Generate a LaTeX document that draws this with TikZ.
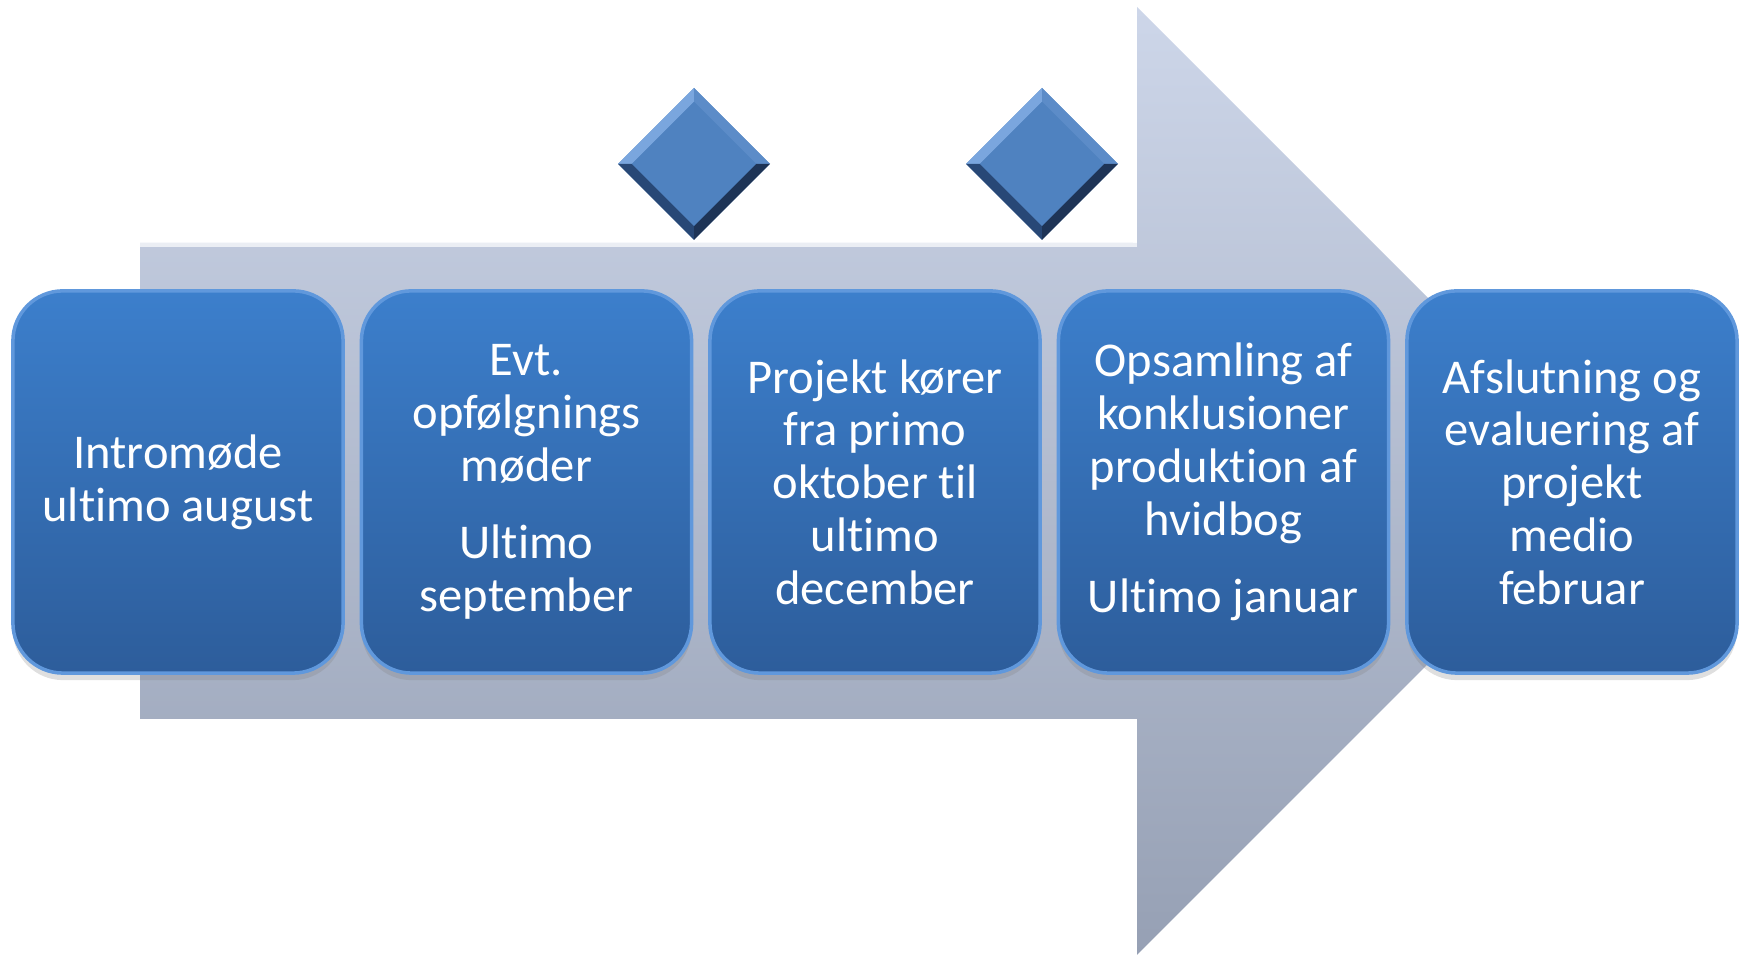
\documentclass[tikz,border=0pt]{standalone}
\usepackage{fontspec}
\setmainfont{Carlito}[Ligatures=NoCommon]
\usepackage{tikz}
\usetikzlibrary{shapes.geometric, shadows, positioning}
\usepackage{color}
\definecolor{boxtop}{RGB}{60,127,204}
\definecolor{boxbot}{RGB}{45,93,155}
\definecolor{boxline}{RGB}{96,152,220}
\definecolor{arrowtop}{RGB}{205,214,233}
\definecolor{arrowbot}{RGB}{150,160,180}
\definecolor{diafill}{RGB}{79,130,192}
\definecolor{dialight}{RGB}{122,166,222}
\definecolor{diamid}{RGB}{92,140,200}
\definecolor{diadark}{RGB}{40,72,118}
\definecolor{diadeep}{RGB}{30,52,86}

\tikzset{
	phase/.style={rounded corners=0.5cm, minimum width=3.3cm, minimum height=3.82cm,
		top color=boxtop, bottom color=boxbot, draw=boxline, line width=1pt,
		drop shadow={opacity=0.25, shadow xshift=0pt, shadow yshift=-2pt},
		text=white, align=center, font=\fontsize{13.8}{15}\selectfont},
}

\begin{document}
\begin{tikzpicture}[x=0.01cm, y=0.01cm]
		\useasboundingbox (0,0) rectangle (1744,955);
		% big arrow behind the phases
		\shade [top color=arrowtop, bottom color=arrowbot] (140,236)--(140,712)--(1137,712)--(1137,948)--(1611,474)--(1137,0)--(1137,236)--cycle;
		\draw [white, opacity=0.7, line width=1.2pt] (140,710)--(1135,710)--(1135,946);
		% milestones
		\foreach \x/\n in {694/d1, 1042/d2}{
			\node [diamond, minimum width=1.52cm, minimum height=1.52cm, inner sep=0pt, fill=diafill] (\n) at (\x,791) {};
			\fill [dialight] (\x-76,791)--(\x,867)--(\x,853)--(\x-62,791)--cycle;
			\fill [diamid] (\x,867)--(\x+76,791)--(\x+62,791)--(\x,853)--cycle;
			\fill [diadark] (\x-76,791)--(\x,715)--(\x,729)--(\x-62,791)--cycle;
			\fill [diadeep] (\x,715)--(\x+76,791)--(\x+62,791)--(\x,729)--cycle;
			\fill [diafill] (\x-62,791)--(\x,853)--(\x+62,791)--(\x,729)--cycle;
		}
		% phases
		\node [phase] (b1) at (178,473) {Intromøde\\ultimo august};
		\node [phase] (b2) at (526.5,473) {Evt.\\opfølgnings\\møder\\[7pt]Ultimo\\september};
		\node [phase] (b3) at (875,473) {Projekt kører\\fra primo\\oktober til\\ultimo\\december};
		\node [phase] (b4) at (1223.5,473) {Opsamling af\\konklusioner\\produktion af\\hvidbog\\[7pt]Ultimo januar};
		\node [phase] (b5) at (1572,473) {Afslutning og\\evaluering af\\projekt\\medio\\februar};
	\end{tikzpicture}
\end{document}
